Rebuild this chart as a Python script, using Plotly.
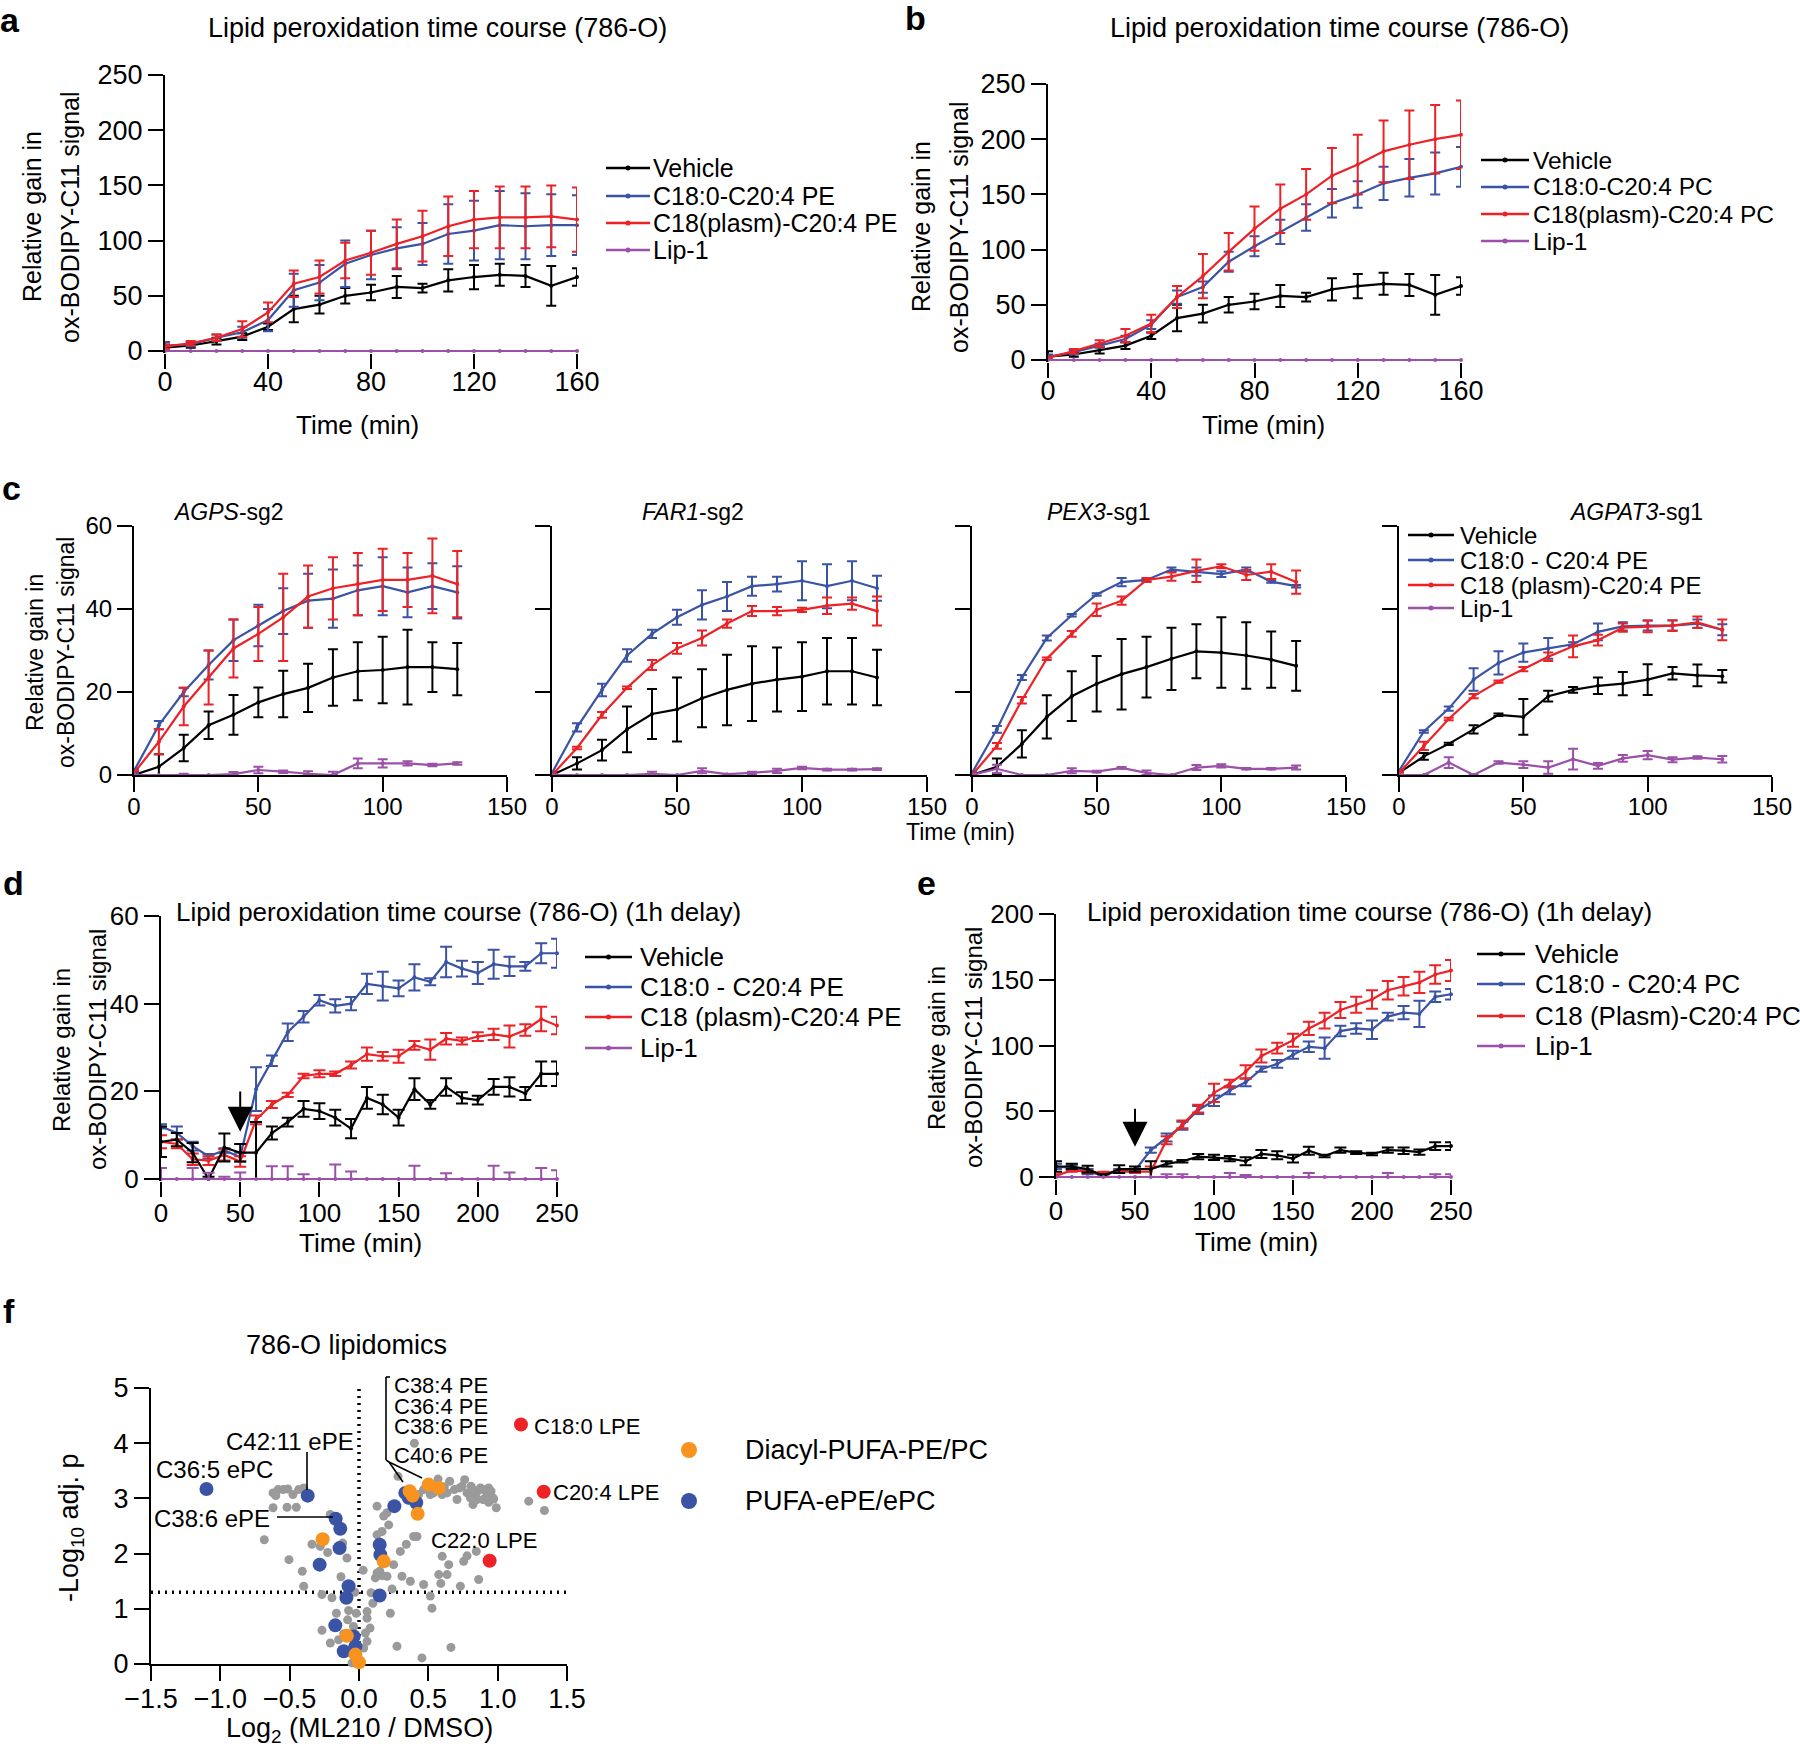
import plotly.graph_objects as go

# ======================= DATA =======================
# Panels a & b (786-O, 0-160 min)
time_ab = [0, 10, 20, 30, 40, 50, 60, 70, 80, 90, 100, 110, 120, 130, 140, 150, 160]
vehicle_ab = [3, 5, 9, 13, 22, 38, 42, 50, 53, 58, 57, 64, 67, 69, 68, 59, 67]
vehicle_ab_err = [5, 2, 3, 3, 3, 12, 8, 7, 7, 10, 4, 10, 11, 10, 10, 18, 8]
pe_a = [5, 6, 12, 17, 28, 55, 62, 79, 87, 93, 97, 106, 109, 114, 113, 114, 114]
pe_a_err = [3, 2, 3, 5, 10, 15, 16, 21, 22, 19, 19, 27, 27, 31, 30, 28, 27]
plasm_pe_a = [4, 7, 12, 20, 35, 61, 67, 82, 89, 97, 104, 113, 119, 121, 121, 122, 119]
plasm_pe_a_err = [2, 2, 3, 7, 9, 12, 15, 16, 20, 22, 23, 27, 26, 28, 28, 28, 29]
lip1_ab = [0, 0, 0, 0, 0, 0, 0, 0, 0, 0, 0, 0, 0, 0, 0, 0, 0]
lip1_ab_err = [0, 0, 0, 0, 0, 0, 0, 0, 0, 0, 0, 0, 0, 0, 0, 0, 0]
pc_b = [3, 7, 13, 19, 32, 57, 66, 89, 103, 116, 129, 142, 150, 160, 165, 169, 175]
pc_b_err = [2, 2, 2, 3, 4, 6, 5, 9, 9, 11, 12, 13, 12, 15, 17, 19, 18]
plasm_pc_b = [2, 8, 15, 22, 33, 57, 76, 98, 119, 137, 150, 167, 177, 189, 195, 200, 204]
plasm_pc_b_err = [1, 2, 3, 6, 8, 10, 20, 17, 20, 22, 23, 25, 27, 28, 31, 31, 31]

# Panel c (knockouts, 0-130 min)
time_c = [0, 10, 20, 30, 40, 50, 60, 70, 80, 90, 100, 110, 120, 130]
c_titles = ["<i>AGPS</i>-sg2", "<i>FAR1</i>-sg2", "<i>PEX3</i>-sg1", "<i>AGPAT3</i>-sg1"]
c_vehicle = [
    [0, 2, 6.5, 12, 14.5, 17.5, 19.5, 21, 23.5, 25, 25.3, 26, 26, 25.5],
    [0, 2.8, 6, 11, 14.7, 15.8, 18.5, 20.5, 22, 23, 23.7, 25, 25, 23.5],
    [0, 2, 7.5, 14, 19, 22, 24.3, 26, 28, 29.8, 29.5, 28.8, 27.8, 26.3],
    [0.5, 4.5, 7.5, 11, 14.5, 14, 19, 20.5, 21.5, 22, 23, 24.5, 24, 23.8],
]
c_vehicle_err = [
    [1, 3, 3.2, 3.3, 4.8, 3.6, 5.6, 5.8, 6.8, 7, 8, 9, 6, 6.3],
    [0.5, 1.5, 2.5, 5.5, 6, 7.7, 7, 8.5, 9, 7.7, 8.3, 8, 8, 6.7],
    [0.5, 2, 3.3, 5.2, 6, 6.7, 8.5, 7.3, 7.5, 6.5, 8.5, 8, 6.8, 6],
    [0.5, 0.8, 0.3, 1, 0.3, 4.3, 1.3, 0.7, 2, 2.8, 3.7, 1.5, 2.6, 1.5],
]
c_pe = [
    [1, 12, 20, 26.5, 32.5, 36, 39.5, 42, 42.5, 44.5, 45.5, 44, 45.5, 44],
    [0.5, 11.5, 20.5, 28.8, 34, 38, 41, 43, 45.5, 46, 46.8, 45.5, 46.8, 45],
    [0.5, 11, 23.5, 33, 38.5, 43.5, 46.5, 47, 49.5, 49, 48.4, 49.5, 46.6, 45.5],
    [1, 10.5, 16, 23, 27, 29.5, 30.5, 31.5, 34.5, 35.8, 36, 36, 36.5, 35],
]
c_pe_err = [
    [0.5, 1, 1, 3.5, 5, 5, 5.5, 6.5, 7, 6, 7, 6, 5.5, 6.3],
    [0.3, 1, 1.5, 1.5, 1, 1.8, 3.5, 3.5, 2.3, 1.8, 4.7, 5.3, 4.7, 3],
    [0.3, 0.8, 0.6, 0.6, 0.3, 0.3, 1, 0.3, 0.5, 1, 0.7, 0.5, 0.3, 0.3],
    [0.3, 0.3, 0.5, 2.7, 2.8, 2.2, 2.5, 0.5, 2, 1, 1.2, 1.2, 1, 1.3],
]
c_plasm = [
    [0.5, 8, 16.5, 23.5, 30.5, 34, 38, 43, 45, 46, 47, 47, 48, 46],
    [0, 6.5, 14.5, 21, 26.5, 30.5, 33, 36.5, 39.5, 39.5, 39.8, 40.8, 41.3, 39.5],
    [0, 7, 18, 28, 34, 39.8, 42, 47, 47.8, 49.2, 50.3, 48.2, 49, 46.5],
    [0.5, 7, 13.5, 19, 22.5, 25.5, 28.5, 31, 32.5, 35.5, 35.8, 36, 36.8, 35],
]
c_plasm_err = [
    [0.5, 3, 4.5, 6.5, 7, 6.5, 10.5, 7.5, 7.5, 7.5, 7.5, 6.5, 9, 8],
    [0.3, 0.3, 0.7, 0.3, 1.2, 1.3, 1.8, 1, 1.2, 1, 0.5, 2, 1.5, 3.5],
    [0.3, 0.7, 0.8, 0.3, 0.7, 1.5, 1, 0.5, 1, 2.7, 0.5, 1.2, 1.8, 2.8],
    [0.3, 1, 0.3, 0.5, 0.3, 0.5, 1, 2.6, 1.3, 1, 1.4, 1.3, 1.4, 2.5],
]
c_lip1 = [
    [0, 0, 0, 0, 0.2, 1.2, 0.8, 0.3, 0, 2.8, 2.8, 2.8, 2.4, 2.8],
    [0, 0, 0, 0, 0.3, 0, 1, 0.2, 0.5, 1, 1.7, 1.3, 1.3, 1.4],
    [0, 1.5, 0, 0, 1, 0.8, 1.7, 0.5, 0, 1.8, 2.2, 1.5, 1.5, 1.8],
    [0, 0, 3, 0, 3, 2.5, 1.8, 3.8, 2.2, 4, 4.8, 3.7, 4.2, 3.8],
]
c_lip1_err = [
    [0, 0, 0.3, 0, 0.5, 0.8, 0.3, 0.6, 0.8, 1.2, 1, 0.5, 0.3, 0.3],
    [0, 0, 0, 0, 0.5, 0, 0.6, 0, 0.3, 0.5, 0.3, 0.2, 0.2, 0.2],
    [0.3, 1, 0, 0, 0.6, 0.2, 0.2, 0.6, 0, 0.6, 0.4, 0.2, 0.2, 0.5],
    [0, 0, 1.3, 0, 0.3, 0.8, 1.5, 2.5, 0.7, 0.8, 1, 0.6, 0.3, 0.8],
]

# Panels d & e (1 h delay, 0-250 min)
time_de = [0, 10, 20, 30, 40, 50, 60, 70, 80, 90, 100, 110, 120, 130, 140, 150,
           160, 170, 180, 190, 200, 210, 220, 230, 240, 250]
vehicle_d = [8.5, 9, 6, 0, 7.2, 6, 6, 10.5, 13, 16, 15.5, 14, 11.5, 18.5, 17, 14,
             20.5, 17, 21, 18.5, 18, 21, 21, 19.5, 24, 24]
vehicle_d_err = [3.5, 1.5, 2.2, 0.5, 3.2, 2, 7, 1.5, 1, 1.8, 1.8, 1.8, 2.2, 2.5, 2.2, 1.8,
                 2.5, 1, 2, 1.3, 1, 1.8, 2.2, 1.5, 2.8, 2.8]
pe_d = [12, 10.5, 7.5, 5.2, 6.5, 5, 20.5, 27, 33.5, 37, 40.8, 39.5, 40, 44.5, 44, 43.5,
        46, 45, 49.5, 48, 47, 49, 48.5, 48.5, 51.5, 51.5]
pe_d_err = [0.5, 1.5, 1, 0.5, 0.5, 1, 5, 1.2, 2, 1.3, 1.2, 1.5, 1.5, 2.3, 3.3, 1.8,
            3, 0.8, 3.5, 1.8, 2.5, 3.3, 2.2, 1, 2.3, 3.3]
plasm_pe_d = [8.5, 8, 4.5, 4.2, 5.5, 4, 13.5, 17, 19.2, 23.5, 24, 24, 26, 28.5, 28, 28,
              30.5, 29.5, 32, 31.5, 32.5, 33, 32.5, 34, 36.5, 35]
plasm_pe_d_err = [1.5, 1, 1.3, 1, 1.3, 1.2, 1, 0.8, 0.5, 0.5, 0.8, 0.5, 0.8, 1.5, 1, 1.5,
                  1, 2.3, 1.3, 0.8, 1, 1.3, 2.5, 1.3, 2.8, 2]
lip1_d = [0] * 26
lip1_d_err = [2.5, 0, 2.5, 1.4, 0.5, 1.5, 0, 2.9, 2.9, 1.1, 0, 3.3, 1.7, 0, 0, 0,
              3, 0, 1.3, 0, 0, 3, 1.5, 0, 2.5, 2]
vehicle_e = [8, 8, 6, 1, 6, 6, 6, 10, 12, 15.5, 15, 14, 12, 17.5, 16.5, 14,
             20, 16, 20.5, 18.5, 17.5, 20.5, 20, 19, 23.5, 23.5]
vehicle_e_err = [4, 2, 2.5, 1, 3, 2, 6, 2, 1, 2, 2, 2, 3, 3, 3, 3,
                 3, 1, 2, 1, 1, 2, 2.5, 2, 3, 3]
pc_e = [8, 7, 4, 1, 5, 5, 20.5, 30, 39, 51, 58, 66, 72, 82, 86, 93,
        99, 98, 111, 113, 112, 122, 125, 124, 137, 139]
pc_e_err = [2, 2, 2, 1, 1, 1, 2, 3, 3, 3, 4, 3, 3, 2, 3, 3,
            4, 8, 4, 4, 7, 3, 5, 10, 4, 4]
plasm_pc_e = [1, 5, 4, 3, 4, 4, 4, 28, 40, 52, 64, 71, 80, 92, 98, 104,
              113, 119, 127, 131, 135, 142, 145, 148, 154, 157]
plasm_pc_e_err = [1, 1, 1, 1, 1, 1, 4, 3, 3, 3, 7, 3, 5, 5, 4, 5,
                  5, 6, 6, 6, 7, 7, 7, 8, 7, 8]
lip1_e = [0] * 26
lip1_e_err = [0, 0, 0, 0, 0, 0, 0, 2, 2, 0, 0, 3, 1.5, 0, 0, 0,
              3, 0, 0, 0, 0, 3, 0, 0, 2, 2]
treatment_time = 50
arrow_d = [10.8, 20.3]   # tip, tail (value units)
arrow_e = [23, 53]

# Panel f (volcano)
grey_x = [-0.62, -0.584, -0.548, -0.514, -0.476, -0.435, -0.399, -0.60, -0.62, -0.519, -0.452,
          -0.683, -0.505, -0.409, -0.399, -0.339, -0.279, -0.226, -0.207, -0.118, -0.087, -0.130,
          -0.267, -0.195, -0.163, -0.075, -0.082, -0.267, -0.207, -0.147, -0.05, -0.11, -0.04,
          -0.02, 0.034, 0.058, 0.046, 0.058, 0.058, 0.087, 0.118, 0.130, 0.166, 0.202, 0.150,
          0.226, 0.238, 0.274, 0.31, 0.37, 0.454, 0.466, 0.526, 0.514, 0.575, 0.635, 0.647,
          0.60, 0.663, 0.731, 0.755, 0.779, 0.846, 0.863, 0.418, 0.341, 0.298, 0.130, 0.166,
          0.214, 0.178, 0.202, 0.130, 0.281, 0.399, 0.570, 0.654, 0.615, 0.688, 0.707, 0.726,
          0.743, 0.762, 0.779, 0.808, 0.822, 0.822, 0.846, 0.851, 0.875, 0.894, 0.894, 0.911,
          0.923, 0.935, 0.952, 0.966, 0.971, 0.990, 0.635, 0.599, 0.538, 0.514, 0.55, 0.935,
          1.224, 1.337, 0.466, 0.430, 0.803, 0.25, 0.394, 0.59, 0.10, 0.03, -0.03, 0.08]
grey_y = [3.10, 3.16, 3.16, 3.17, 3.07, 3.16, 3.19, 3.05, 2.83, 2.84, 2.84,
          2.25, 1.89, 1.68, 1.41, 2.17, 2.13, 2.02, 2.71, 2.19, 1.92, 1.58,
          1.26, 1.20, 0.92, 0.97, 0.80, 0.61, 0.38, 0.44, 0.02, 0.55, 0.68,
          0.92, 0.29, 0.41, 0.56, 0.83, 0.95, 1.29, 1.56, 1.65, 1.60, 1.59, 1.68,
          0.92, 1.36, 0.32, 1.59, 1.50, 0.11, 1.44, 1.01, 1.23, 1.62, 1.62, 1.80,
          1.95, 0.30, 1.41, 1.86, 1.96, 2.04, 1.53, 2.31, 2.17, 2.04, 2.34, 2.40,
          2.52, 2.68, 2.74, 2.86, 3.40, 4.00, 3.35, 3.31, 3.21, 3.16, 2.98, 3.19,
          3.22, 3.34, 3.10, 3.22, 2.89, 3.16, 3.10, 2.98, 3.19, 2.98, 3.16, 2.98,
          3.07, 3.19, 3.13, 3.01, 2.99, 2.83, 3.10, 3.07, 3.10, 3.07, 3.19, 2.93,
          2.95, 2.78, 3.16, 3.07, 3.01, 1.80, 2.31, 1.46, 1.10, 1.70, 1.30, 0.65]
epe_x = [-1.10, -0.37, -0.168, -0.135, -0.14, -0.284, -0.075, -0.091, -0.171, -0.11, -0.038,
         -0.026, 0.149, 0.154, 0.149, 0.255, 0.334, 0.358, 0.413]
epe_y = [3.17, 3.05, 2.63, 2.45, 2.10, 1.80, 1.41, 1.20, 0.70, 0.23, 0.50,
         0.32, 2.16, 1.98, 1.24, 2.86, 3.10, 3.01, 2.92]
diacyl_x = [-0.262, -0.087, -0.026, 0.0, 0.178, 0.365, 0.387, 0.423, 0.502, 0.575]
diacyl_y = [2.26, 0.51, 0.17, 0.03, 1.86, 3.13, 3.05, 2.72, 3.25, 3.19]
lpe_x = [1.168, 1.332, 0.942]
lpe_y = [4.34, 3.12, 1.87]
sig_threshold = 1.3
fc_zero = 0.0

# ======================= STYLE / LAYOUT =======================
W, H = 1800, 1748
FONT = "Liberation Sans, Arial, Helvetica, sans-serif"
BLACK = "#000000"
BLUE = "#3A53A4"
RED = "#EC2227"
PURPLE = "#9B51A8"
GREY = "#9A9A9A"
ORANGE = "#F7931E"


def px(x):
    return x / W


def py(y):
    return 1 - y / H


fig = go.Figure()
shapes = []
annotations = []
layout = {}


def setup_axes(n, xpx, ypx, xr, yr, xt, yt, fs, style, ext=2, show_ylabels=True, tickfmt=None,
               xstand=-6):
    x0, x1 = xpx
    ytop, ybot = ypx
    ymin, ymax = yr
    if style == "zero":
        per = (ybot - ytop) / (ymax - ymin)
        ymin_ext = ymin - ext / per
        ybot_dom = ybot + ext
    else:
        ymin_ext = ymin
        ybot_dom = ybot
    sfx = "" if n == 1 else str(n)
    common = dict(showgrid=False, ticks="outside", ticklen=15, tickwidth=2.2, tickcolor="black",
                  linecolor="black", linewidth=2.2, automargin=False,
                  tickfont=dict(size=fs, color="black", family=FONT), fixedrange=True)
    xa = dict(common, domain=[px(x0), px(x1)], range=list(xr), tickvals=xt, anchor="y" + sfx,
              zeroline=False, ticklabelstandoff=xstand)
    ya = dict(common, domain=[py(ybot_dom), py(ytop)], range=[ymin_ext, ymax], tickvals=yt,
              anchor="x" + sfx, showline=True, showticklabels=show_ylabels)
    if style == "zero":
        xa.update(showline=False)
        ya.update(zeroline=True, zerolinecolor="black", zerolinewidth=2.2)
    elif style == "c":
        xa.update(showline=True, layer="above traces")
        ya.update(zeroline=False, layer="above traces")
    else:
        xa.update(showline=True, layer="below traces")
        ya.update(zeroline=False, layer="below traces")
    if tickfmt:
        xa.update(tickformat=tickfmt)
    layout["xaxis" + sfx] = xa
    layout["yaxis" + sfx] = ya
    return "x" + sfx, "y" + sfx


def add_series(xa, ya, t, vals, errs, color, cap=5):
    fig.add_trace(go.Scatter(
        x=t, y=vals, xaxis=xa, yaxis=ya, mode="lines+markers",
        line=dict(color=color, width=2.2), marker=dict(size=4, color=color),
        error_y=dict(type="data", array=errs,
                     arrayminus=[min(e, v) for e, v in zip(errs, vals)],
                     color=color, thickness=2, width=cap),
        cliponaxis=False, showlegend=False, hoverinfo="skip"))


def add_legend(entries, xl0, xl1, xt, ys, fs):
    for (name, color), y in zip(entries, ys):
        shapes.append(dict(type="line", xref="paper", yref="paper", x0=px(xl0), x1=px(xl1),
                           y0=py(y), y1=py(y), line=dict(color=color, width=2.4)))
        cx = (xl0 + xl1) / 2
        shapes.append(dict(type="circle", xref="paper", yref="paper", x0=px(cx - 2.5),
                           x1=px(cx + 2.5), y0=py(y + 2.5), y1=py(y - 2.5),
                           fillcolor=color, line=dict(color=color, width=0)))
        annotations.append(dict(text=name, x=px(xt), y=py(y), xref="paper", yref="paper",
                                xanchor="left", yanchor="middle", showarrow=False,
                                font=dict(size=fs, color="black", family=FONT)))


def text(s, x, y, fs, anchor="center", angle=0, bold=False, yanchor="middle"):
    annotations.append(dict(text=("<b>%s</b>" % s) if bold else s, x=px(x), y=py(y),
                            xref="paper", yref="paper", xanchor=anchor, yanchor=yanchor,
                            showarrow=False, textangle=angle,
                            font=dict(size=fs, color="black", family=FONT)))


def ytitle(x1, x2, yc, fs):
    text("Relative gain in", x1, yc, fs, angle=-90)
    text("ox-BODIPY-C11 signal", x2, yc, fs, angle=-90)


# ---------------- panel a ----------------
xa, ya = setup_axes(1, (165, 577), (75, 351), (0, 160), (0, 250), [0, 40, 80, 120, 160],
                    [0, 50, 100, 150, 200, 250], 27, "zero", xstand=-10)
add_series(xa, ya, time_ab, vehicle_ab, vehicle_ab_err, BLACK)
add_series(xa, ya, time_ab, pe_a, pe_a_err, BLUE)
add_series(xa, ya, time_ab, plasm_pe_a, plasm_pe_a_err, RED)
add_series(xa, ya, time_ab, lip1_ab, lip1_ab_err, PURPLE)
text("a", 10, 20, 34, bold=True)
text("Lipid peroxidation time course (786-O)", 437, 28, 27)
ytitle(32, 70, 217, 25)
text("Time (min)", 357, 425, 26)
add_legend([("Vehicle", BLACK), ("C18:0-C20:4 PE", BLUE), ("C18(plasm)-C20:4 PE", RED),
            ("Lip-1", PURPLE)], 606, 650, 651, [168, 196, 223, 250], 25)

# ---------------- panel b ----------------
xa, ya = setup_axes(2, (1048, 1461), (84, 360), (0, 160), (0, 250), [0, 40, 80, 120, 160],
                    [0, 50, 100, 150, 200, 250], 27, "zero", xstand=-10)
add_series(xa, ya, time_ab, vehicle_ab, vehicle_ab_err, BLACK)
add_series(xa, ya, time_ab, pc_b, pc_b_err, BLUE)
add_series(xa, ya, time_ab, plasm_pc_b, plasm_pc_b_err, RED)
add_series(xa, ya, time_ab, lip1_ab, lip1_ab_err, PURPLE)
text("b", 916, 18, 34, bold=True)
text("Lipid peroxidation time course (786-O)", 1339, 28, 27)
ytitle(921, 959, 227, 25)
text("Time (min)", 1263, 425, 26)
add_legend([("Vehicle", BLACK), ("C18:0-C20:4 PC", BLUE), ("C18(plasm)-C20:4 PC", RED),
            ("Lip-1", PURPLE)], 1481, 1529, 1531, [160, 187, 214, 241], 24.5)

# ---------------- panel c ----------------
c_xpx = [(134, 507), (552, 927), (972, 1346), (1399, 1772)]
c_title_x = [229, 693, 1099, 1636]
for i in range(4):
    xa, ya = setup_axes(3 + i, c_xpx[i], (526, 775), (0, 150), (0, 60), [0, 50, 100, 150],
                        [0, 20, 40, 60], 24, "c", show_ylabels=(i == 0))
    add_series(xa, ya, time_c, c_vehicle[i], c_vehicle_err[i], BLACK)
    add_series(xa, ya, time_c, c_pe[i], c_pe_err[i], BLUE)
    add_series(xa, ya, time_c, c_plasm[i], c_plasm_err[i], RED)
    add_series(xa, ya, time_c, c_lip1[i], c_lip1_err[i], PURPLE)
    text(c_titles[i], c_title_x[i], 512, 23)
text("c", 11, 488, 34, bold=True)
ytitle(35, 66, 653, 23)
text("Time (min)", 960, 832, 23)
add_legend([("Vehicle", BLACK), ("C18:0 - C20:4 PE", BLUE), ("C18 (plasm)-C20:4 PE", RED),
            ("Lip-1", PURPLE)], 1408, 1454, 1458, [535, 560, 585, 608], 24)

# ---------------- panel d ----------------
xa, ya = setup_axes(7, (161, 557), (916, 1179), (0, 250), (0, 60), [0, 50, 100, 150, 200, 250],
                    [0, 20, 40, 60], 26, "zero")
add_series(xa, ya, time_de, pe_d, pe_d_err, BLUE, cap=6)
add_series(xa, ya, time_de, plasm_pe_d, plasm_pe_d_err, RED, cap=6)
add_series(xa, ya, time_de, vehicle_d, vehicle_d_err, BLACK, cap=6)
add_series(xa, ya, time_de, lip1_d, lip1_d_err, PURPLE, cap=6)
annotations.append(dict(x=treatment_time, y=arrow_d[0], xref=xa, yref=ya, ax=0,
                        ay=-(arrow_d[1] - arrow_d[0]) * (1179 - 916) / 60, text="",
                        showarrow=True, arrowhead=2, arrowsize=2.5, arrowwidth=2,
                        arrowcolor="black"))
text("d", 13, 883, 34, bold=True)
text("Lipid peroxidation time course (786-O) (1h delay)", 174, 912, 26, anchor="left")
ytitle(61, 97, 1050, 24)
text("Time (min)", 360, 1243, 26)
add_legend([("Vehicle", BLACK), ("C18:0 - C20:4 PE", BLUE), ("C18 (plasm)-C20:4 PE", RED),
            ("Lip-1", PURPLE)], 585, 632, 638, [957, 987, 1017, 1048], 26)

# ---------------- panel e ----------------
xa, ya = setup_axes(8, (1056, 1451), (914, 1177), (0, 250), (0, 200), [0, 50, 100, 150, 200, 250],
                    [0, 50, 100, 150, 200], 26, "zero")
add_series(xa, ya, time_de, pc_e, pc_e_err, BLUE, cap=6)
add_series(xa, ya, time_de, plasm_pc_e, plasm_pc_e_err, RED, cap=6)
add_series(xa, ya, time_de, vehicle_e, vehicle_e_err, BLACK, cap=6)
add_series(xa, ya, time_de, lip1_e, lip1_e_err, PURPLE, cap=6)
annotations.append(dict(x=treatment_time, y=arrow_e[0], xref=xa, yref=ya, ax=0,
                        ay=-(arrow_e[1] - arrow_e[0]) * (1177 - 914) / 200, text="",
                        showarrow=True, arrowhead=2, arrowsize=2.5, arrowwidth=2,
                        arrowcolor="black"))
text("e", 926, 883, 34, bold=True)
text("Lipid peroxidation time course (786-O) (1h delay)", 1369, 912, 26)
ytitle(936, 973, 1048, 24)
text("Time (min)", 1256, 1242, 26)
add_legend([("Vehicle", BLACK), ("C18:0 - C20:4 PC", BLUE), ("C18 (Plasm)-C20:4 PC", RED),
            ("Lip-1", PURPLE)], 1477, 1525, 1533, [954, 984, 1016, 1046], 26)

# ---------------- panel f ----------------
xa, ya = setup_axes(9, (151, 567), (1388, 1664), (-1.5, 1.5), (0, 5),
                    [-1.5, -1.0, -0.5, 0.0, 0.5, 1.0, 1.5], [0, 1, 2, 3, 4, 5], 27, "f",
                    tickfmt=".1f")
shapes.append(dict(type="line", xref=xa, yref=ya, x0=fc_zero, x1=fc_zero, y0=0, y1=5,
                   line=dict(color="black", width=3.5, dash="2px,5px"), layer="below"))
shapes.append(dict(type="line", xref=xa, yref=ya, x0=-1.5, x1=1.5, y0=sig_threshold,
                   y1=sig_threshold, line=dict(color="black", width=3.5, dash="2px,5px"),
                   layer="below"))
fig.add_trace(go.Scatter(x=grey_x, y=grey_y, xaxis=xa, yaxis=ya, mode="markers",
                         marker=dict(size=9, color=GREY), cliponaxis=False,
                         showlegend=False, hoverinfo="skip"))
fig.add_trace(go.Scatter(x=epe_x, y=epe_y, xaxis=xa, yaxis=ya, mode="markers",
                         marker=dict(size=14, color=BLUE), cliponaxis=False,
                         showlegend=False, hoverinfo="skip"))
fig.add_trace(go.Scatter(x=diacyl_x, y=diacyl_y, xaxis=xa, yaxis=ya, mode="markers",
                         marker=dict(size=14, color=ORANGE), cliponaxis=False,
                         showlegend=False, hoverinfo="skip"))
fig.add_trace(go.Scatter(x=lpe_x, y=lpe_y, xaxis=xa, yaxis=ya, mode="markers",
                         marker=dict(size=14, color=RED), cliponaxis=False,
                         showlegend=False, hoverinfo="skip"))
text("f", 9, 1311, 34, bold=True)
text("786-O lipidomics", 346, 1345, 27)
text("-Log<sub>10</sub> adj. p", 71, 1528, 27, angle=-90)
text("Log<sub>2</sub> (ML210 / DMSO)", 359, 1730, 27)
# labels
text("C36:5 ePC", 214, 1469, 24)
text("C42:11 ePE", 290, 1441, 24)
text("C38:6 ePE", 212, 1518, 24)
for s, yy in zip(["C38:4 PE", "C36:4 PE", "C38:6 PE", "C40:6 PE"], [1385, 1406, 1426, 1455]):
    text(s, 392, yy, 22, anchor="left")
text("C18:0 LPE", 532, 1426, 22, anchor="left")
text("C20:4 LPE", 551, 1492, 22, anchor="left")
text("C22:0 LPE", 484, 1540, 22)
for (lx0, ly0, lx1, ly1) in [(307, 1452, 307, 1490), (277, 1517, 333, 1517),
                             (386, 1377, 386, 1460), (386, 1377, 390, 1377),
                             (386, 1460, 389, 1462), (389, 1462, 403, 1482),
                             (389, 1462, 422, 1478)]:
    shapes.append(dict(type="line", xref="paper", yref="paper", x0=px(lx0), x1=px(lx1),
                       y0=py(ly0), y1=py(ly1), line=dict(color="black", width=1.6)))
# legend f
for (name, color), yy in zip([("Diacyl-PUFA-PE/PC", ORANGE), ("PUFA-ePE/ePC", BLUE)], [1450, 1501]):
    shapes.append(dict(type="circle", xref="paper", yref="paper", x0=px(681), x1=px(697),
                       y0=py(yy + 8), y1=py(yy - 8), fillcolor=color, line=dict(width=0)))
    text(name, 743, yy, 27, anchor="left")

fig.update_layout(template="none", width=W, height=H, autosize=False,
                  margin=dict(l=0, r=0, t=0, b=0, pad=0),
                  paper_bgcolor="white", plot_bgcolor="white", showlegend=False,
                  font=dict(family=FONT, color="black"),
                  shapes=shapes, annotations=annotations, **layout)

fig.write_html("out.html", config={"displayModeBar": False},
               post_script="document.body.style.margin='0';document.body.style.overflow='hidden';")
